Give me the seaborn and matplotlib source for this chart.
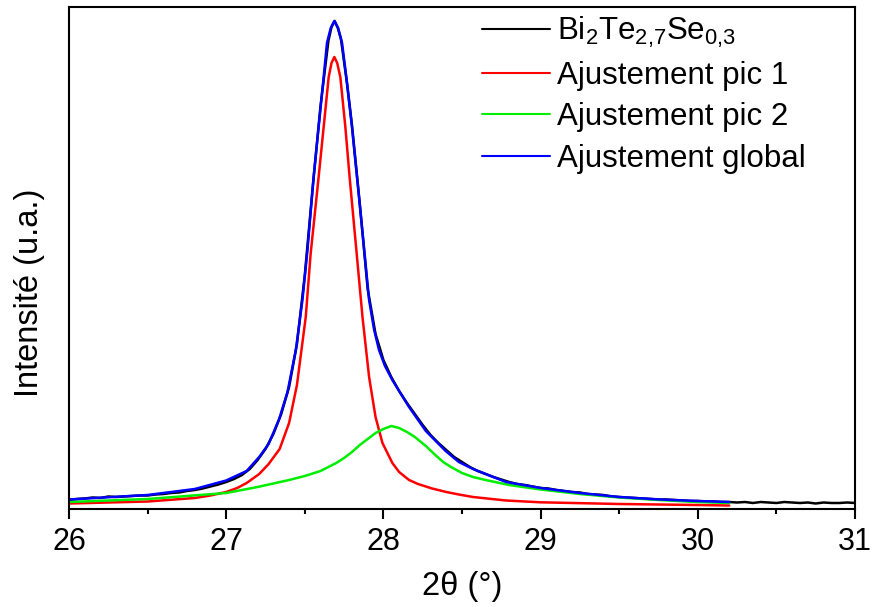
import matplotlib
matplotlib.use("Agg")
import matplotlib.pyplot as plt
from matplotlib.ticker import MultipleLocator
import seaborn as sns

# measured pattern (2theta in degrees, intensity in arbitrary units)
data_x = [26.00, 26.05, 26.10, 26.15, 26.20, 26.25, 26.30, 26.35, 26.40, 26.45,
          26.50, 26.55, 26.60, 26.65, 26.70, 26.75, 26.80, 26.85, 26.90, 26.95,
          27.00, 27.05, 27.10, 27.15, 27.20, 27.25, 27.30, 27.35, 27.40, 27.45,
          27.50, 27.55, 27.60, 27.65, 27.67, 27.69, 27.71, 27.73, 27.77, 27.80,
          27.85, 27.90, 27.95, 28.00, 28.05, 28.10, 28.15, 28.20, 28.25, 28.30,
          28.35, 28.40, 28.45, 28.50, 28.55, 28.60, 28.65, 28.70, 28.75, 28.80,
          28.85, 28.90, 28.95, 29.00, 29.05, 29.10, 29.15, 29.20, 29.25, 29.30,
          29.35, 29.40, 29.45, 29.50, 29.55, 29.60, 29.65, 29.70, 29.75, 29.80,
          29.85, 29.90, 29.95, 30.00, 30.05, 30.10, 30.15, 30.20, 30.25, 30.30,
          30.35, 30.40, 30.45, 30.50, 30.55, 30.60, 30.65, 30.70, 30.75, 30.80,
          30.85, 30.90, 30.95, 31.00]
data_y = [9, 10, 10.5, 11.5, 11, 12.5, 12, 12.5, 13, 13.5,
          13.5, 14.5, 15, 16, 16.5, 18, 19, 20.5, 22.5, 24.5,
          27, 30, 34, 40, 49, 60, 75, 95, 122, 165,
          234, 321, 403, 468, 482, 488, 481, 470, 424, 384,
          305, 220, 175, 149, 132, 118, 106, 95, 84, 74,
          66, 59, 52, 47, 42, 38, 35, 32, 29.5, 27,
          25, 24, 22.5, 21, 20.5, 19, 18, 17, 16.5, 15,
          14.5, 14, 12.5, 12, 11.5, 11, 10.5, 10, 9.5, 9.5,
          9, 8.5, 8, 8, 7.5, 7.5, 7, 7, 6.5, 7,
          6, 7, 6.5, 6, 7, 6.5, 6, 6.5, 5.5, 6.5,
          6, 6, 6.5, 6]

# fitted peak 1
pic1_x = [26.0, 26.5, 26.8, 26.9, 27.0, 27.07, 27.13, 27.21, 27.27, 27.34,
          27.40, 27.45, 27.506, 27.537, 27.588, 27.62, 27.652, 27.67, 27.688, 27.706,
          27.726, 27.758, 27.785, 27.832, 27.867, 27.909, 27.95, 27.994, 28.057, 28.10,
          28.163, 28.22, 28.31, 28.40, 28.48, 28.57, 28.78, 29.0, 29.5, 30.0,
          30.2]
pic1_y = [5.5, 7.5, 11, 13.5, 17, 21, 26, 35, 45, 60,
          86, 124, 192, 255, 332, 382, 432, 446, 452, 446,
          432, 382, 332, 252, 192, 132, 92, 66, 46, 37,
          29, 25, 20.5, 17, 14.5, 12, 8.5, 6.7, 5, 4,
          3.5]

# fitted peak 2
pic2_x = [26.0, 26.5, 27.0, 27.2, 27.4, 27.5, 27.6, 27.65, 27.7, 27.75,
          27.8, 27.85, 27.9, 27.95, 28.0, 28.05, 28.1, 28.15, 28.2, 28.27,
          28.33, 28.38, 28.43, 28.5, 28.57, 28.65, 28.8, 29.0, 29.25, 29.5,
          29.75, 30.0, 30.2]
pic2_y = [7, 10, 16, 22, 29, 33, 38, 42, 46, 51,
          57, 64, 70, 76, 80, 83, 81, 77, 72, 63,
          54, 47, 42, 36, 32, 29, 24, 19.5, 15, 11.5,
          9, 7, 6]

# global fit
glob_x = [26.0, 26.5, 26.8, 27.0, 27.13, 27.21, 27.27, 27.337, 27.39, 27.443,
          27.485, 27.517, 27.556, 27.588, 27.62, 27.641, 27.665, 27.688, 27.712, 27.737,
          27.764, 27.80, 27.832, 27.87, 27.909, 27.94, 27.972, 28.01, 28.057, 28.163,
          28.27, 28.396, 28.48, 28.57, 28.78, 29.0, 29.25, 29.5, 29.76, 30.0,
          30.2]
glob_y = [9.5, 14, 20, 28.5, 38, 52, 65, 90, 117, 159,
          209, 259, 332, 382, 432, 466, 481, 488, 481, 466,
          432, 382, 332, 272, 209, 180, 159, 143, 129, 102,
          78, 58, 47, 40, 27, 21, 16, 12, 9.5, 8,
          7]

labels = ["Bi$_2$Te$_{2{,}7}$Se$_{0{,}3}$", "Ajustement pic 1", "Ajustement pic 2", "Ajustement global"]
colors = ["#000000", "#ff0000", "#00ee00", "#0000ff"]

sns.set_theme(style="ticks")
plt.rcParams["font.family"] = ["Liberation Sans", "DejaVu Sans"]
plt.rcParams["mathtext.fontset"] = "custom"
plt.rcParams["mathtext.rm"] = "Liberation Sans"
plt.rcParams["mathtext.it"] = "Liberation Sans:italic"
plt.rcParams["text.color"] = "black"
plt.rcParams["axes.labelcolor"] = "black"
plt.rcParams["xtick.color"] = "black"
plt.rcParams["xtick.labelcolor"] = "black"

fig = plt.figure(figsize=(8.72, 6.07), dpi=100)
ax = fig.add_axes([69 / 872, 98 / 607, 786 / 872, 502 / 607])

series = [(data_x, data_y), (pic1_x, pic1_y), (pic2_x, pic2_y), (glob_x, glob_y)]
for (xs, ys), lab, col in zip(series, labels, colors):
    sns.lineplot(x=xs, y=ys, color=col, lw=1.8, label=lab, ax=ax, errorbar=None)

ax.set_xlim(26, 31)
ax.set_ylim(0, 502)
ax.set_yticks([])
ax.xaxis.set_major_locator(MultipleLocator(1))
ax.xaxis.set_minor_locator(MultipleLocator(0.5))
ax.tick_params(axis="x", which="major", direction="out", length=7, width=1.5,
               labelsize=22, pad=6, colors="black")
ax.tick_params(axis="x", which="minor", direction="out", length=3.5, width=1.5, colors="black")
for sp in ax.spines.values():
    sp.set_visible(True)
    sp.set_linewidth(1.5)
    sp.set_color("black")

ax.set_xlabel("2θ (°)", fontsize=23.5, labelpad=10, color="black")
ax.set_ylabel("Intensité (u.a.)", fontsize=23.5, color="black")
ax.yaxis.set_label_coords(-0.031, 0.43)

leg = ax.legend(loc="upper left", bbox_to_anchor=(0.525, 0.985), frameon=False,
                fontsize=22.5, handlelength=2.2, handletextpad=0.22, labelspacing=0.36,
                borderpad=0, borderaxespad=0)
for line in leg.get_lines():
    line.set_linewidth(1.5)
for t in leg.get_texts():
    t.set_color("black")

fig.savefig("out.png", dpi=100)
